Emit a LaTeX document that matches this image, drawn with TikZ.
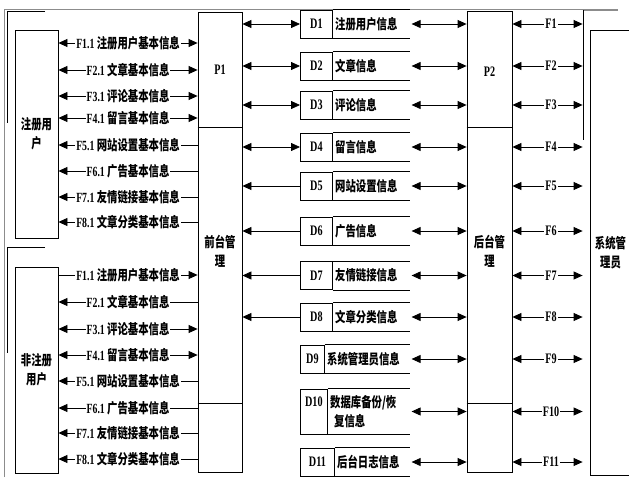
\documentclass[tikz,border=0pt]{standalone}
\usepackage{fontspec}
\setmainfont{Noto Sans CJK SC}[FakeStretch=0.74]
\newfontfamily\lat{Liberation Serif}[FakeStretch=0.7]
\usepackage{tikz}
\usetikzlibrary{arrows.meta,positioning}
\definecolor{FrameGray}{HTML}{8C8C8C}
\tikzset{
  actor/.style={draw,minimum width=43pt,align=center,inner sep=0pt},
  procbox/.style={draw,minimum width=44pt,inner sep=0pt},
  boxlab/.style={align=center,inner sep=0pt},
  idlab/.style={font=\lat\bfseries\fontsize{14.5}{18}\selectfont,inner sep=1pt},
  flowlab/.style={fill=white,inner sep=1pt},
  storeid/.style={draw,anchor=west,minimum height=28pt,inner sep=0pt,font=\lat\bfseries\fontsize{14.5}{19}\selectfont},
  storetxt/.style={right=0pt of #1,minimum height=28pt,inner sep=2pt,align=left}
}

\begin{document}
\begin{tikzpicture}[x=1pt,y=-1pt,line width=0.8pt,>={Triangle[length=9pt,width=8pt]},
  font=\bfseries\fontsize{14}{19}\selectfont]
  \useasboundingbox (0,0) rectangle (629,477);
  % outer frame
  \draw[FrameGray] (4,477) -- (4,9) -- (583,9);
  \draw[FrameGray,line width=2pt] (583,9.5) -- (618,9.5);
  \draw (45,11) -- (7,11) -- (7,123);
  \draw (45,247) -- (7,247) -- (7,353);
  \draw (583,10) -- (583,140);

  % external entities
  \node[actor,minimum height=208pt] (reg) at (36.5,134) {注册用\\户};
  \node[actor,minimum height=206pt] (unreg) at (36.5,370) {非注册\\用户};
  \node[actor,minimum width=41pt,minimum height=445pt] (admin) at (610.5,252.5) {系统管\\理员};

  % processes
  \node[procbox,minimum height=460pt] (fore) at (220,242) {};
  \node[idlab] (p1) at (220,70) {P1};
  \node[boxlab] (forename) at (220,251.5) {前台管\\理};
  \draw (fore.west |- 0,127) -- (fore.east |- 0,127) (fore.west |- 0,403) -- (fore.east |- 0,403);
  \node[procbox,minimum width=45pt,minimum height=461pt] (back) at (489.5,241.5) {};
  \node[idlab] (p2) at (489.5,72) {P2};
  \node[boxlab] (backname) at (489.5,251.5) {后台管\\理};
  \draw (back.west |- 0,127) -- (back.east |- 0,127) (back.west |- 0,403) -- (back.east |- 0,403);

  % data stores
  \node[storeid,minimum width=32pt] (d1) at (300,24) {D1};
  \node[storetxt=d1,text width=72pt] (d1t) {注册用户信息};
  \node[storeid,minimum width=32pt] (d2) at (300,66) {D2};
  \node[storetxt=d2,text width=72pt] (d2t) {文章信息};
  \node[storeid,minimum width=32pt] (d3) at (300,105) {D3};
  \node[storetxt=d3,text width=72pt] (d3t) {评论信息};
  \node[storeid,minimum width=32pt] (d4) at (300,147) {D4};
  \node[storetxt=d4,text width=72pt] (d4t) {留言信息};
  \node[storeid,minimum width=32pt] (d5) at (300,186) {D5};
  \node[storetxt=d5,text width=72pt] (d5t) {网站设置信息};
  \node[storeid,minimum width=32pt] (d6) at (300,231) {D6};
  \node[storetxt=d6,text width=72pt] (d6t) {广告信息};
  \node[storeid,minimum width=32pt] (d7) at (300,275.5) {D7};
  \node[storetxt=d7,text width=72pt] (d7t) {友情链接信息};
  \node[storeid,minimum width=32pt] (d8) at (300,317) {D8};
  \node[storetxt=d8,text width=72pt] (d8t) {文章分类信息};
  \node[storeid,minimum width=24pt] (d9) at (300,359) {D9};
  \node[storetxt=d9,text width=80pt] (d9t) {系统管理员信息};
  \node[storeid,minimum width=27pt,minimum height=45pt,align=center] (d10) at (300,411.5) {D10\\\mbox{}};
  \node[storetxt=d10,text width=77pt,minimum height=45pt] (d10t) {数据库备份/恢\\\hspace{4pt}复信息};
  \node[storeid,minimum width=34pt] (d11) at (300,462) {D11};
  \node[storetxt=d11,text width=70pt] (d11t) {后台日志信息};
  \draw (d1.north east) -- (d1t.north east) (d1.south east) -- (d1t.south east);
  \draw (d2.north east) -- (d2t.north east) (d2.south east) -- (d2t.south east);
  \draw (d3.north east) -- (d3t.north east) (d3.south east) -- (d3t.south east);
  \draw (d4.north east) -- (d4t.north east) (d4.south east) -- (d4t.south east);
  \draw (d5.north east) -- (d5t.north east) (d5.south east) -- (d5t.south east);
  \draw (d6.north east) -- (d6t.north east) (d6.south east) -- (d6t.south east);
  \draw (d7.north east) -- (d7t.north east) (d7.south east) -- (d7t.south east);
  \draw (d8.north east) -- (d8t.north east) (d8.south east) -- (d8t.south east);
  \draw (d9.north east) -- (d9t.north east) (d9.south east) -- (d9t.south east);
  \draw (d10.north east) -- (d10t.north east) (d10.south east) -- (d10t.south east);
  \draw (d11.north east) -- (d11t.north east) (d11.south east) -- (d11t.south east);

  % registered user flows
  \draw[<->] (reg.east |- 0,43) -- node[flowlab] (r1) {{\lat F1.1}\ 注册用户基本信息} (fore.west |- 0,43);
  \draw[<->] (reg.east |- 0,70) -- node[flowlab] (r2) {{\lat F2.1}\ 文章基本信息} (fore.west |- 0,70);
  \draw[<->] (reg.east |- 0,96) -- node[flowlab] (r3) {{\lat F3.1}\ 评论基本信息} (fore.west |- 0,96);
  \draw[<->] (reg.east |- 0,118) -- node[flowlab] (r4) {{\lat F4.1}\ 留言基本信息} (fore.west |- 0,118);
  \draw[<-] (reg.east |- 0,145) -- node[flowlab] (r5) {{\lat F5.1}\ 网站设置基本信息} (fore.west |- 0,145);
  \draw[<-] (reg.east |- 0,171) -- node[flowlab] (r6) {{\lat F6.1}\ 广告基本信息} (fore.west |- 0,171);
  \draw[<-] (reg.east |- 0,197) -- node[flowlab] (r7) {{\lat F7.1}\ 友情链接基本信息} (fore.west |- 0,197);
  \draw[<-] (reg.east |- 0,222) -- node[flowlab] (r8) {{\lat F8.1}\ 文章分类基本信息} (fore.west |- 0,222);

  % unregistered user flows
  \draw[->] (unreg.east |- 0,275) -- node[flowlab] (u1) {{\lat F1.1}\ 注册用户基本信息} (fore.west |- 0,275);
  \draw[<-] (unreg.east |- 0,302) -- node[flowlab] (u2) {{\lat F2.1}\ 文章基本信息} (fore.west |- 0,302);
  \draw[<->] (unreg.east |- 0,329) -- node[flowlab] (u3) {{\lat F3.1}\ 评论基本信息} (fore.west |- 0,329);
  \draw[<->] (unreg.east |- 0,355) -- node[flowlab] (u4) {{\lat F4.1}\ 留言基本信息} (fore.west |- 0,355);
  \draw[<-] (unreg.east |- 0,381) -- node[flowlab] (u5) {{\lat F5.1}\ 网站设置基本信息} (fore.west |- 0,381);
  \draw[<-] (unreg.east |- 0,408) -- node[flowlab] (u6) {{\lat F6.1}\ 广告基本信息} (fore.west |- 0,408);
  \draw[<-] (unreg.east |- 0,433) -- node[flowlab] (u7) {{\lat F7.1}\ 友情链接基本信息} (fore.west |- 0,433);
  \draw[<-] (unreg.east |- 0,459) -- node[flowlab] (u8) {{\lat F8.1}\ 文章分类基本信息} (fore.west |- 0,459);

  % front end <-> stores
  \draw[<->] (fore.east |- d1.west) -- (d1.west);
  \draw[<->] (fore.east |- d2.west) -- (d2.west);
  \draw[<->] (fore.east |- d3.west) -- (d3.west);
  \draw[<->] (fore.east |- d4.west) -- (d4.west);
  \draw[<-] (fore.east |- d5.west) -- (d5.west);
  \draw[<-] (fore.east |- d6.west) -- (d6.west);
  \draw[<-] (fore.east |- d7.west) -- (d7.west);
  \draw[<-] (fore.east |- d8.west) -- (d8.west);

  % stores <-> back end
  \draw[<->,shorten <=2pt] (d1t.east) -- (back.west |- d1t.east);
  \draw[<->,shorten <=2pt] (d2t.east) -- (back.west |- d2t.east);
  \draw[<->,shorten <=2pt] (d3t.east) -- (back.west |- d3t.east);
  \draw[<->,shorten <=2pt] (d4t.east) -- (back.west |- d4t.east);
  \draw[<->,shorten <=2pt] (d5t.east) -- (back.west |- d5t.east);
  \draw[<->,shorten <=2pt] (d6t.east) -- (back.west |- d6t.east);
  \draw[<->,shorten <=2pt] (d7t.east) -- (back.west |- d7t.east);
  \draw[<->,shorten <=2pt] (d8t.east) -- (back.west |- d8t.east);
  \draw[<->,shorten <=2pt] (d9t.east) -- (back.west |- d9t.east);
  \draw[<->,shorten <=2pt] (d10t.east) -- (back.west |- d10t.east);
  \draw[<->,shorten <=2pt] (d11t.east) -- (back.west |- d11t.east);

  % back end <-> administrator
  \draw[<->,shorten >=7pt] (back.east |- d1.west) -- node[flowlab,idlab] (a1) {F1} (admin.west |- d1.west);
  \draw[<->,shorten >=7pt] (back.east |- d2.west) -- node[flowlab,idlab] (a2) {F2} (admin.west |- d2.west);
  \draw[<->,shorten >=7pt] (back.east |- d3.west) -- node[flowlab,idlab] (a3) {F3} (admin.west |- d3.west);
  \draw[<->,shorten >=7pt] (back.east |- d4.west) -- node[flowlab,idlab] (a4) {F4} (admin.west |- d4.west);
  \draw[<->,shorten >=7pt] (back.east |- d5.west) -- node[flowlab,idlab] (a5) {F5} (admin.west |- d5.west);
  \draw[<->,shorten >=7pt] (back.east |- d6.west) -- node[flowlab,idlab] (a6) {F6} (admin.west |- d6.west);
  \draw[<->,shorten >=7pt] (back.east |- d7.west) -- node[flowlab,idlab] (a7) {F7} (admin.west |- d7.west);
  \draw[<->,shorten >=7pt] (back.east |- d8.west) -- node[flowlab,idlab] (a8) {F8} (admin.west |- d8.west);
  \draw[<->,shorten >=7pt] (back.east |- d9.west) -- node[flowlab,idlab] (a9) {F9} (admin.west |- d9.west);
  \draw[<->,shorten >=7pt] (back.east |- d10.west) -- node[flowlab,idlab] (a10) {F10} (admin.west |- d10.west);
  \draw[<->,shorten >=7pt] (back.east |- d11.west) -- node[flowlab,idlab] (a11) {F11} (admin.west |- d11.west);
\end{tikzpicture}
\end{document}
